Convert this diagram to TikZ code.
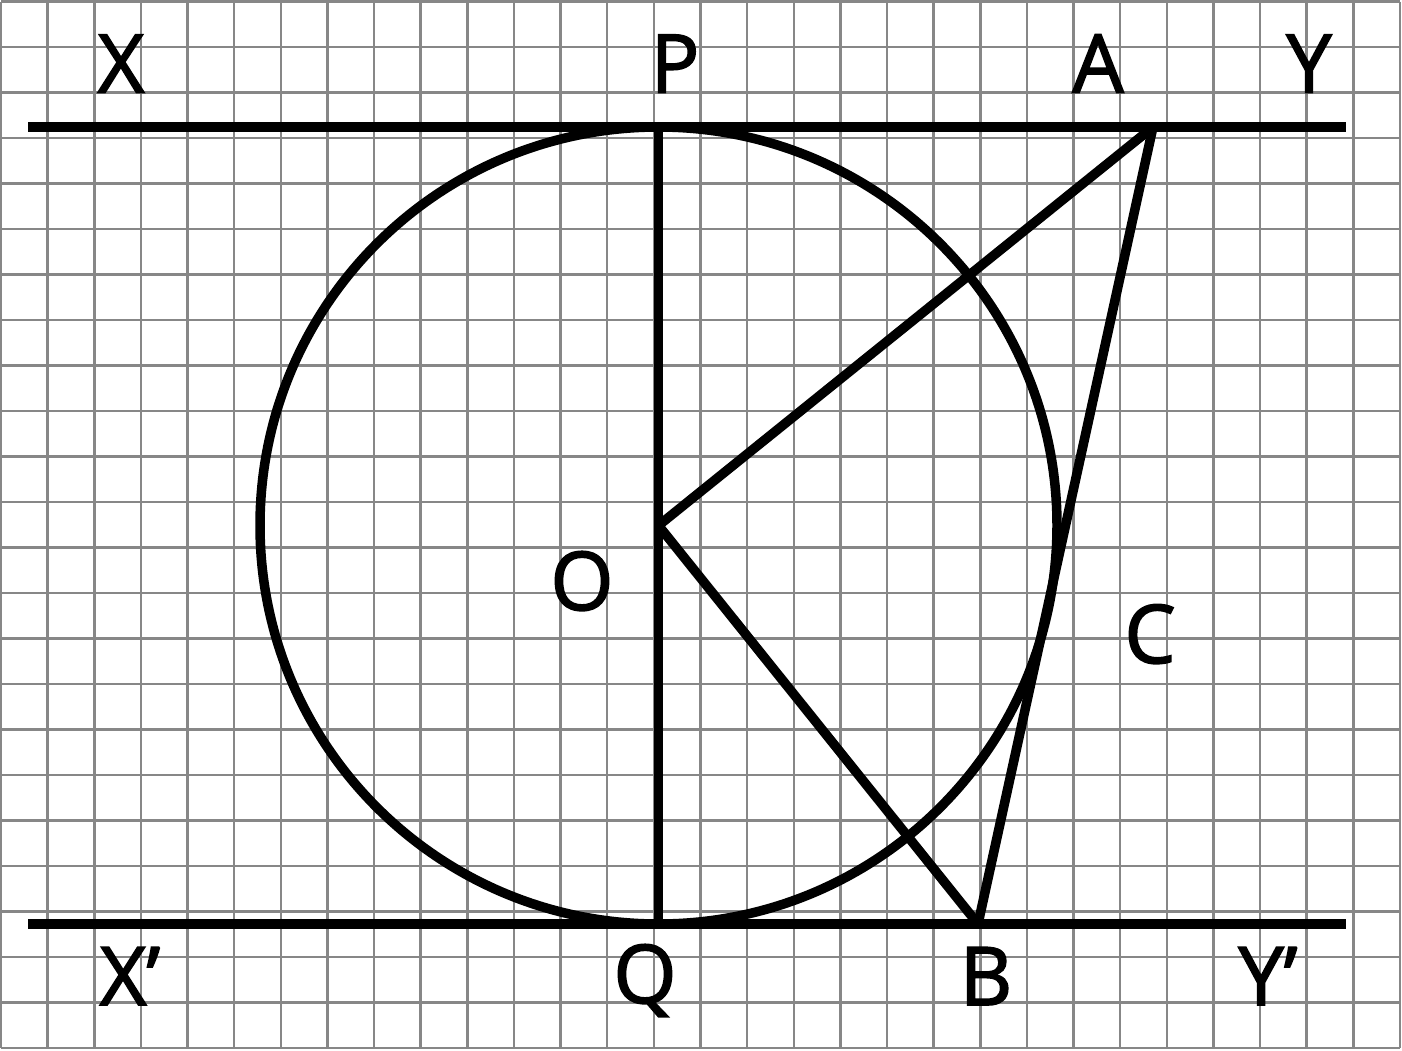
\documentclass[tikz,border=0pt]{standalone}
\usepackage{fontspec}
\setmainfont{Open Sans}
\newfontfamily\lblfont{Open Sans}[FakeBold=2]
\begin{document}
\begin{tikzpicture}[x=0.5pt,y=-0.5pt,
  gridline/.style={draw=black!47,line width=1.25pt},
  thick line/.style={line width=4.75pt,line cap=butt},
  lbl/.style={inner sep=0pt,anchor=base,font=\lblfont\fontsize{40.5}{48}\selectfont}]
\useasboundingbox (0,0) rectangle (1402,1050);
\fill[white] (0,0) rectangle (1402,1050);
% grid
\foreach \k in {0,...,30}{
  \draw[gridline] ({1+46.633*\k},1.7) -- ({1+46.633*\k},1048.2);
}
\foreach \k in {0,...,23}{
  \draw[gridline] (1,{1.7+45.5*\k}) -- (1400,{1.7+45.5*\k});
}
% points
\coordinate (XL) at (28,127);
\coordinate (YR) at (1346,127);
\coordinate (XL2) at (28,924);
\coordinate (YR2) at (1346,924);
\coordinate (P) at (658.5,127);
\coordinate (Q) at (658.5,924);
\coordinate (O) at (658.5,525.5);
\coordinate (A) at (1153,127);
\coordinate (B) at (978,924);
% drawing
\draw[thick line] (XL) -- (YR);
\draw[thick line] (XL2) -- (YR2);
\draw[thick line] (O) circle[radius=199.25pt];
\draw[thick line] (P) -- (Q);
\draw[thick line] (O) -- (A);
\draw[thick line] (O) -- (B);
\draw[thick line] (A) -- (B);
% labels
\node[lbl] (lX) at (121,92.5) {X};
\node[lbl] (lP) at (675,92.5) {P};
\node[lbl] (lA) at (1098,92.5) {A};
\node[lbl] (lY) at (1309,92.5) {Y};
\node[lbl] (lO) at (582,610) {O};
\node[lbl] (lC) at (1150,663) {C};
\node[lbl] (lX2) at (130,1005) {X’};
\node[lbl] (lQ) at (645,1003) {Q};
\node[lbl] (lB) at (986,1005) {B};
\node[lbl] (lY2) at (1268,1005) {Y’};
\end{tikzpicture}
\end{document}
